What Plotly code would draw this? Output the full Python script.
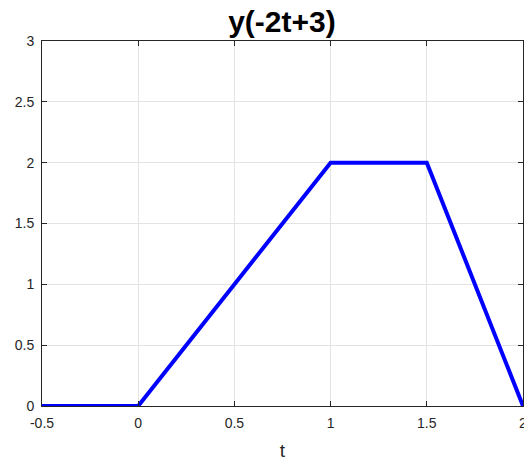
import plotly.graph_objects as go

t_vals = [-0.5, 0, 1, 1.5, 2]
y_vals = [0, 0, 2, 2, 0]
x_ticks = [-0.5, 0, 0.5, 1, 1.5, 2]
x_tick_labels = ["-0.5", "0", "0.5", "1", "1.5", "2"]
y_ticks = [0, 0.5, 1, 1.5, 2, 2.5, 3]
y_tick_labels = ["0", "0.5", "1", "1.5", "2", "2.5", "3"]

FONT = "Liberation Sans, Arial, sans-serif"

fig = go.Figure()
fig.add_trace(go.Scatter(x=t_vals, y=y_vals, mode="lines",
                         line=dict(color="#0000ff", width=4), cliponaxis=False))

axis_common = dict(showline=True, linecolor="#262626", linewidth=1, mirror="ticks",
                   ticks="inside", ticklen=5, tickcolor="#262626", tickwidth=1,
                   showgrid=True, gridcolor="#e3e3e3", gridwidth=1, zeroline=False,
                   ticklabeloverflow="allow", automargin=False,
                   tickfont=dict(family=FONT, size=14, color="#262626"))

fig.update_xaxes(range=[-0.5, 2], tickvals=x_ticks, ticktext=x_tick_labels,
                 ticklabelstandoff=4,
                 title=dict(text="t", font=dict(family=FONT, size=19, color="#262626"), standoff=14),
                 **axis_common)
fig.update_yaxes(range=[0, 3], tickvals=y_ticks, ticktext=y_tick_labels,
                 ticklabelstandoff=4, **axis_common)

fig.update_layout(
    width=524, height=461,
    margin=dict(l=42, r=1, t=41, b=55),
    paper_bgcolor="white", plot_bgcolor="white",
    showlegend=False,
    title=dict(text="<b>y(-2t+3)</b>", x=0.538, xanchor="center", y=0.953, yanchor="middle",
               font=dict(family=FONT, size=30, color="#000000")),
)

fig.write_html("out.html", config={"displayModeBar": False},
               post_script="document.body.style.margin='0';document.body.style.overflow='hidden';")
